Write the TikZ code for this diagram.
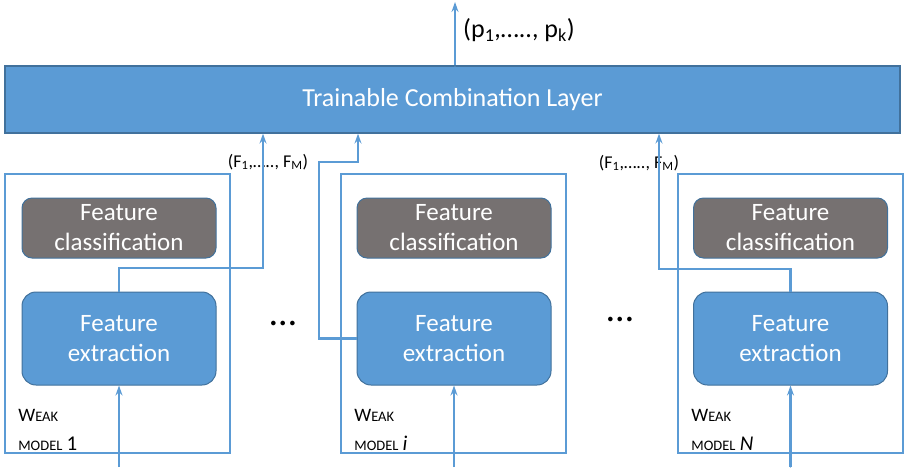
\documentclass[tikz,border=0pt]{standalone}
\usepackage{fontspec}
\setmainfont{Carlito}
\usetikzlibrary{arrows.meta,positioning}

\definecolor{office}{HTML}{5B9BD5}
\definecolor{officedk}{HTML}{41719C}
\definecolor{clsgray}{HTML}{767171}

\newcommand{\sm}{\fontsize{14.5}{29}\selectfont}
\newcommand{\weaklbl}[1]{W{\sm EAK}\\{\sm MODEL} {\fontsize{21}{29}\selectfont #1}}

\begin{document}
\begin{tikzpicture}[x=1pt, y=-1pt,
    layer/.style={rectangle, draw=officedk, line width=1.2pt, fill=office,
        minimum width=895pt, minimum height=67pt, text=white,
        font=\fontsize{26}{30}\selectfont},
    weak/.style={rectangle, draw=office, line width=1.7pt,
        minimum width=225pt, minimum height=279pt},
    clsf/.style={rectangle, rounded corners=10pt, draw=officedk, line width=1pt,
        fill=clsgray, minimum width=194pt, minimum height=60pt, text=white,
        align=center, font=\fontsize{25}{30}\selectfont},
    extr/.style={clsf, rounded corners=14pt, fill=office, minimum height=93pt},
    wlbl/.style={anchor=south west, align=left, inner sep=0pt,
        font=\fontsize{19}{29}\selectfont},
    flbl/.style={font=\fontsize{18}{20}\selectfont, inner sep=0pt},
    dots/.style={font=\fontsize{38}{40}\selectfont, inner sep=0pt},
    link/.style={draw=office, line width=2.5pt,
        -{Stealth[length=10pt, width=7pt, inset=3.5pt]}}]

    \useasboundingbox (0,0) rectangle (904,467);

    % combination layer and its output
    \node[layer] (layer) at (452.5,99.5) {Trainable Combination Layer};
    \coordinate (out) at (455,2);
    \path[link] (layer.north -| out) edge (out);
    \node[anchor=west, inner sep=0pt, font=\fontsize{26}{28}\selectfont] (plbl) at (463,30)
        {(p\textsubscript{1},….., p\textsubscript{k})};

    % weak models
    \node[weak] (w1) at (117.5,313.5) {};
    \node[weak] (w2) at (453.5,313.5) {};
    \node[weak] (w3) at (790.5,313.5) {};

    \node[clsf] (c1) at (119,228) {Feature\\classification};
    \node[clsf] (c2) at (454,228) {Feature\\classification};
    \node[clsf] (c3) at (790.5,228) {Feature\\classification};

    \node[extr] (e1) at (119,338.5) {Feature\\extraction};
    \node[extr] (e2) at (454,338.5) {Feature\\extraction};
    \node[extr] (e3) at (790.5,338.5) {Feature\\extraction};

    \node[wlbl] (l1) at ([xshift=14pt, yshift=3pt]w1.south west) {\weaklbl{1}};
    \node[wlbl] (l2) at ([xshift=14pt, yshift=3pt]w2.south west) {\weaklbl{\textit{i}}};
    \node[wlbl] (l3) at ([xshift=14pt, yshift=3pt]w3.south west) {\weaklbl{\textit{N}}};

    \node[dots] (d1) at (283,323) {…};
    \node[dots] (d2) at (620,319) {…};

    % inputs
    \coordinate (in1) at (119,467);
    \coordinate (in2) at (454,467);
    \coordinate (in3) at (790.5,467);
    \path[link]
        (in1) edge (e1.south)
        (in2) edge (e2.south)
        (in3) edge (e3.south);

    % feature vectors to the layer
    \node[flbl] (f1) at (268,162) {(F\textsubscript{1},….., F\textsubscript{M})};
    \node[flbl] (f3) at (639,163) {(F\textsubscript{1},….., F\textsubscript{M})};
    \coordinate (o1) at (263,268);
    \coordinate (o2) at (319,162);
    \coordinate (o2b) at (358,162);
    \coordinate (o3) at (659,269);
    \draw[link] (e1.north) |- (o1) -- (o1 |- layer.south);
    \draw[link] (e2.west) -| (o2) -- (o2b) -- (o2b |- layer.south);
    \draw[link] (e3.north) |- (o3) -- (o3 |- layer.south);
\end{tikzpicture}
\end{document}
